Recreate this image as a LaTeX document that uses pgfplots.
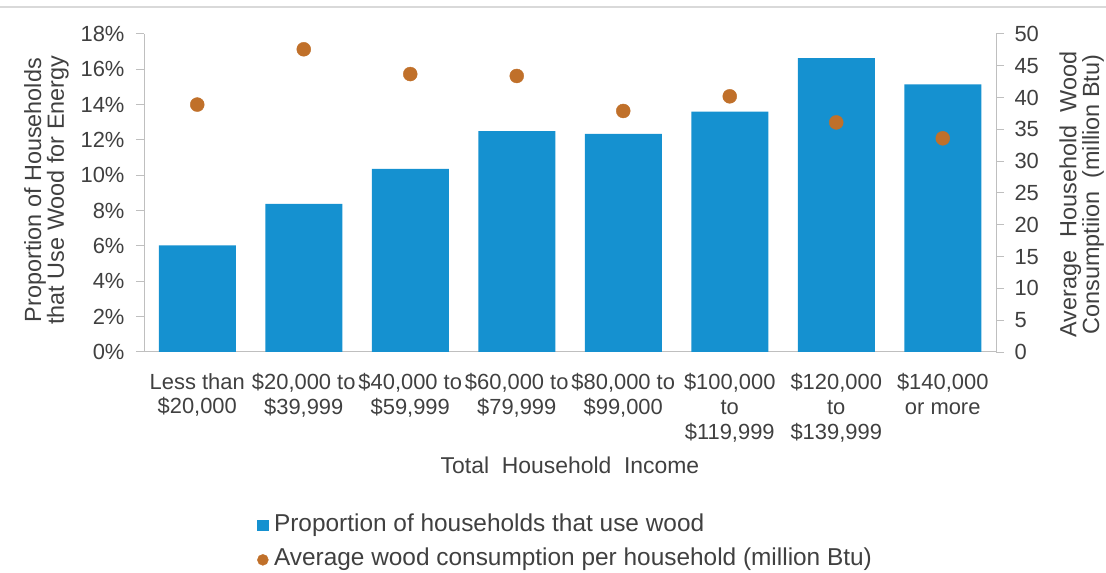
\documentclass[border=0pt]{standalone}
\usepackage{pgfplots}
\pgfplotsset{compat=1.18}
\usepackage{fontspec}
\setmainfont{Liberation Sans}
\definecolor{barblue}{HTML}{1591D0}
\definecolor{dotor}{HTML}{C0702A}
\definecolor{axgray}{HTML}{BFBFBF}
\definecolor{txt}{HTML}{404040}
\pgfplotsset{
  common/.style={
    at={(144bp,221bp)}, anchor=south west,
    width=852bp, height=318bp, scale only axis,
    xmin=-0.5, xmax=7.5,
    axis line style={axgray, line width=1bp},
    tick style={axgray, line width=1bp},
    tick align=outside, major tick length=8bp,
    label style={font=\fontsize{23.5}{21}\selectfont, text=txt, align=center},
    /pgf/number format/assume math mode=true,
  }
}
\begin{document}
\begin{tikzpicture}
\useasboundingbox (0,0) rectangle (1106bp,573bp);
\draw[color=axgray!60, line width=1.5bp] (0,566bp) -- (1106bp,566bp);
\begin{axis}[common,
  ymin=0, ymax=18,
  axis x line*=bottom, axis y line*=left,
  ytick={0,2,...,18},
  yticklabel={\pgfmathprintnumber{\tick}\%},
  yticklabel style={font=\fontsize{22}{24}\selectfont, text=txt, xshift=-8bp},
  xtick={0,...,7},
  x tick style={draw=none},
  xticklabels={{Less than\\\$20,000},{\$20,000 to\\\$39,999},{\$40,000 to\\\$59,999},{\$60,000 to\\\$79,999},{\$80,000 to\\\$99,000},{\$100,000\\to\\\$119,999},{\$120,000\\to\\\$139,999},{\$140,000\\or more}},
  xticklabel style={align=center, font=\fontsize{22}{25}\selectfont, text=txt, anchor=north, inner sep=0pt, yshift=-13bp},
  xlabel={Total\ \ Household\ \ Income},
  xlabel style={at={(axis description cs:0.5,0)}, anchor=center, yshift=-113bp, font=\fontsize{23}{25}\selectfont},
  ylabel={Proportion of Households\\that Use Wood for Energy},
  ylabel style={at={(axis description cs:-0.1144,0.509)}, anchor=center},
]
\addplot[ybar, bar width=77bp, fill=barblue, draw=none] coordinates {
(0,6.03) (1,8.38) (2,10.36) (3,12.5) (4,12.34) (5,13.6) (6,16.63) (7,15.15)};
\end{axis}
\begin{axis}[common,
  ymin=0, ymax=50,
  axis x line=none, axis y line*=right,
  ytick={0,5,...,50},
  yticklabel style={font=\fontsize{22}{24}\selectfont, text=txt, xshift=7bp},
  ylabel={Average\ \ Household\ \ Wood\\Consumptiion\ \ (million Btu)},
  ylabel style={at={(axis description cs:1.1005,0.495)}, anchor=center},
  legend style={at={(axis description cs:0.1326,-0.506)}, anchor=north west, draw=none, fill=none, inner sep=0pt,
    font=\fontsize{24.5}{26}\selectfont, text=txt, row sep=10bp, cells={anchor=west},
    nodes={inner ysep=1bp, inner xsep=5.5bp, text height=17bp, text depth=5.5bp}},
]
\addlegendimage{legend image code/.code={\fill[barblue] (0bp,-5bp) rectangle (10.5bp,5.5bp);}}
\addlegendentry{Proportion of households that use wood}
\addplot[only marks, mark=*, mark size=7bp, color=dotor,
  legend image code/.code={\fill[dotor] (5.5bp,0bp) circle (5.5bp);}] coordinates {
(0,38.9) (1,47.6) (2,43.7) (3,43.4) (4,37.9) (5,40.2) (6,36.1) (7,33.6)};
\addlegendentry{Average wood consumption per household (million Btu)}
\end{axis}
\end{tikzpicture}
\end{document}
